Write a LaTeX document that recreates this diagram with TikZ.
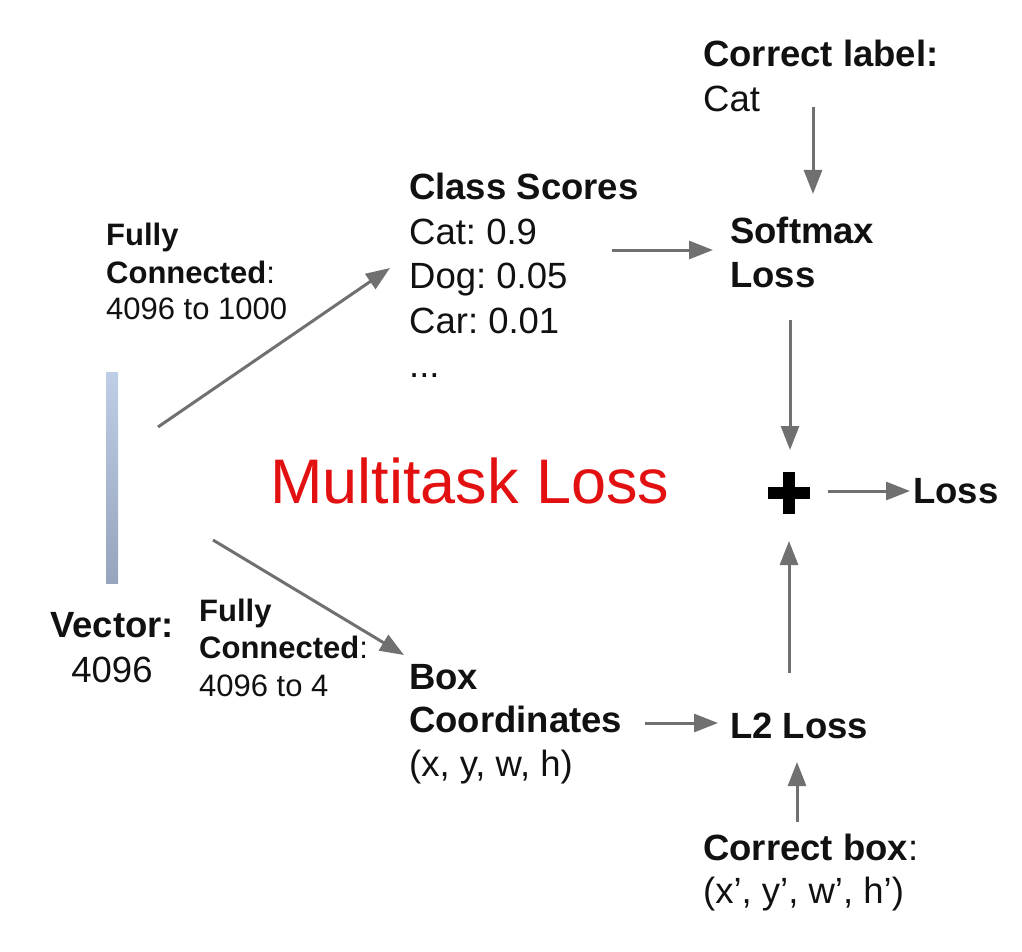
\documentclass[tikz,border=0pt]{standalone}
\usepackage{fontspec}
\setmainfont{Liberation Sans}
\usetikzlibrary{arrows.meta}
\definecolor{arrgray}{RGB}{112,112,112}
\definecolor{txt}{RGB}{17,17,17}
\definecolor{mred}{RGB}{226,16,16}
\definecolor{bartop}{RGB}{190,206,230}
\definecolor{barbot}{RGB}{150,164,190}
\frenchspacing
\begin{document}
\begin{tikzpicture}[x=1pt,y=-1pt,
  arr/.style={draw=arrgray, line width=3pt, -{Triangle[length=24pt,width=18pt]}},
  big/.style={anchor=base west, inner sep=0, text=txt, font=\fontsize{36.5}{40}\selectfont},
  bigb/.style={anchor=base west, inner sep=0, text=txt, font=\fontsize{36.5}{40}\selectfont\bfseries},
  small/.style={anchor=base west, inner sep=0, text=txt, font=\fontsize{31}{36}\selectfont},
  smallb/.style={anchor=base west, inner sep=0, text=txt, font=\fontsize{31}{36}\selectfont\bfseries},
  vecbar/.style={minimum width=12pt, minimum height=211pt, inner sep=0, top color=bartop, bottom color=barbot, draw=none}]
\useasboundingbox (0,0) rectangle (1022,952);

% vector bar
\node[vecbar] (vec) at (112,477.5) {};
\node[bigb, anchor=base] (vlab) at (112,637) {Vector:};
\node[big, anchor=base] (vnum) at (112,682) {4096};

% fully connected labels
\node[smallb] (fc1a) at (106,245) {Fully};
\node[smallb] (fc1b) at (106,283) {Connected\mdseries:};
\node[small]  (fc1c) at (106,319) {4096 to 1000};
\node[smallb] (fc2a) at (199,621) {Fully};
\node[smallb] (fc2b) at (199,658) {Connected\mdseries:};
\node[small]  (fc2c) at (199,696) {4096 to 4};

% class scores
\node[bigb] (cs)  at (409,200) {Class Scores};
\node[big]  (cs1) at (409,244) {Cat: 0.9};
\node[big]  (cs2) at (409,288) {Dog: 0.05};
\node[big]  (cs3) at (409,333) {Car: 0.01};
\node[big]  (cs4) at (409,377) {...};

% box coordinates
\node[bigb] (bx1) at (409,689) {Box};
\node[bigb] (bx2) at (409,732) {Coordinates};
\node[big]  (bx3) at (409,776) {(x, y, w, h)};

% correct label
\node[bigb] (cl1) at (703,67) {Correct label:};
\node[big]  (cl2) at (703,112) {Cat};

% softmax loss
\node[bigb] (sm1) at (730,243) {Softmax};
\node[bigb] (sm2) at (730,287) {Loss};

% L2 loss
\node[bigb] (l2) at (730,738) {L2 Loss};

% correct box
\node[bigb] (cb1) at (703,860) {Correct box\mdseries:};
\node[big]  (cb2) at (703,903) {(x’, y’, w’, h’)};

% multitask
\node[anchor=base west, inner sep=0, text=mred, font=\fontsize{63}{70}\selectfont] (mt) at (270,503) {Multitask Loss};

% plus and loss
\node[minimum size=41pt, inner sep=0] (plus) at (789,493) {};
\draw[line width=12.5pt, black] (plus.west) -- (plus.east);
\draw[line width=12.5pt, black] (plus.north) -- (plus.south);
\node[bigb] (loss) at (913,503) {Loss};

% arrow endpoints
\coordinate (a1s) at (158,427);  \coordinate (a1e) at (390,268);
\coordinate (a2s) at (213,540);  \coordinate (a2e) at (404,655);
\coordinate (a3s) at (612,250);  \coordinate (a3e) at (713,250);
\coordinate (a4s) at (813,107);  \coordinate (a4e) at (813,194);
\coordinate (a5s) at (790,320);  \coordinate (a5e) at (790,450);
\coordinate (a6s) at (789,673);  \coordinate (a6e) at (789,541);
\coordinate (a7s) at (645,723);  \coordinate (a7e) at (718,723);
\coordinate (a8s) at (797,822);  \coordinate (a8e) at (797,762);
\coordinate (a9s) at (828,491);  \coordinate (a9e) at (910,491);

\draw[arr] (a1s) -- (a1e);
\draw[arr] (a2s) -- (a2e);
\draw[arr] (a3s) -- (a3e);
\draw[arr] (a4s) -- (a4e);
\draw[arr] (a5s) -- (a5e);
\draw[arr] (a6s) -- (a6e);
\draw[arr] (a7s) -- (a7e);
\draw[arr] (a8s) -- (a8e);
\draw[arr] (a9s) -- (a9e);
\end{tikzpicture}
\end{document}
